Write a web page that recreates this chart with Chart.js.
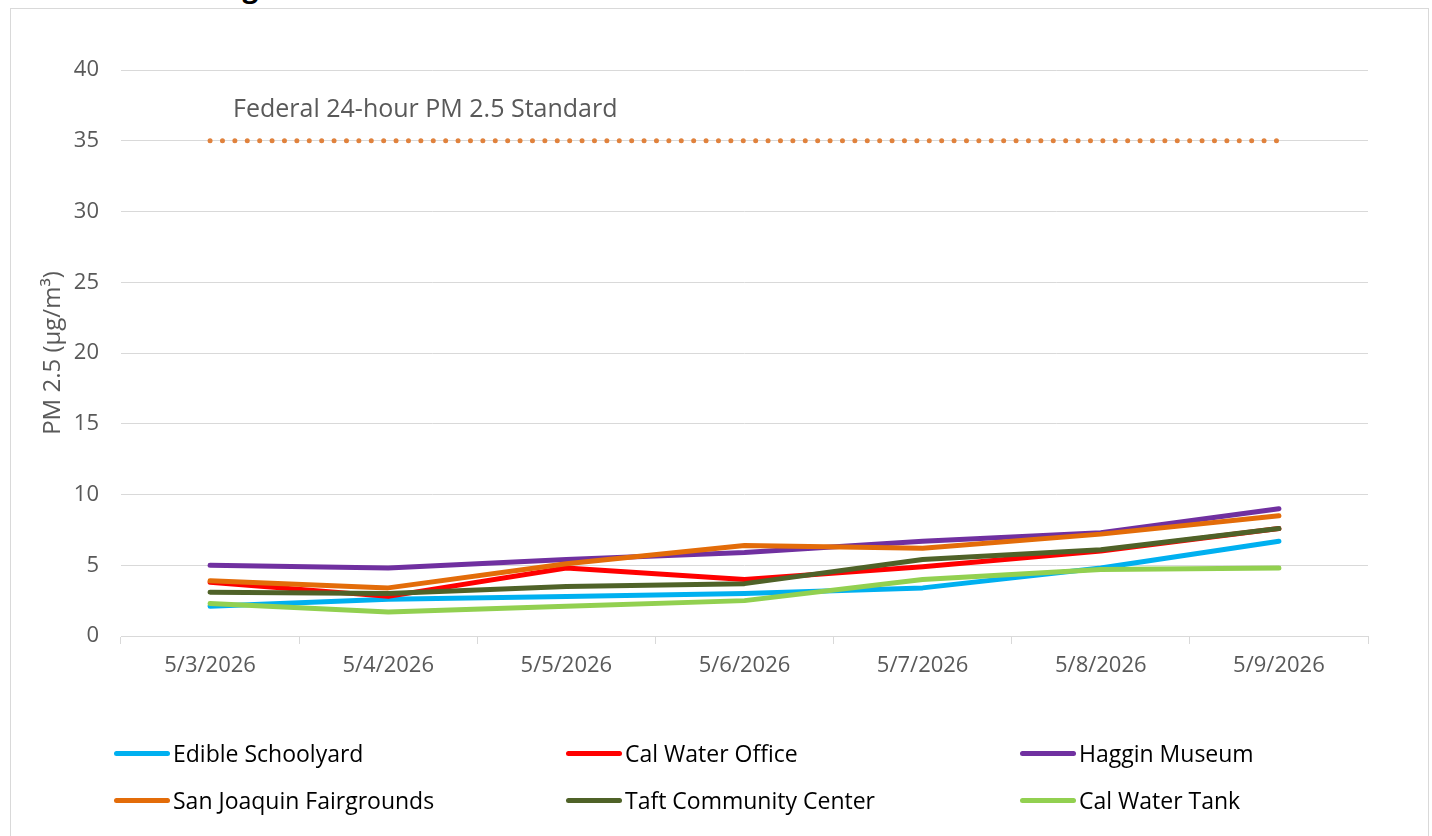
<!DOCTYPE html>
<html>
<head>
<meta charset="utf-8">
<title>PM 2.5</title>
<script src="https://cdn.jsdelivr.net/npm/chart.js@4.4.1/dist/chart.umd.min.js"></script>
<style>
  html, body { margin: 0; padding: 0; background: #fff; overflow: hidden; }
  body { width: 1432px; height: 836px; position: relative; font-family: "Open Sans", sans-serif; }
  #frame { position: absolute; left: 10px; top: 8px; width: 1419px; height: 840px; border: 1px solid #d9d9d9; box-sizing: border-box; }
  #head { position: absolute; left: 146px; top: -31px; font: bold 28px "Open Sans", sans-serif; color: #000; line-height: 34px; white-space: nowrap; }
  #wrap { position: absolute; left: 0; top: 0; width: 1432px; height: 700px; }
  #legend { position: absolute; left: 0; top: 0; width: 1432px; height: 836px; pointer-events: none; }
  .item { position: absolute; display: flex; align-items: center; font-size: 23px; color: #000; white-space: nowrap; }
  .swatch { display: inline-block; width: 56px; height: 5px; border-radius: 3px; margin-right: 3px; }
</style>
</head>
<body>
<div id="frame"></div>
<div id="head">Readings</div>
<div id="wrap"><canvas id="chart" width="1432" height="700"></canvas></div>
<div id="legend"></div>
<script>
"use strict";

var dates = ["5/3/2026", "5/4/2026", "5/5/2026", "5/6/2026", "5/7/2026", "5/8/2026", "5/9/2026"];
var yTicks = [0, 5, 10, 15, 20, 25, 30, 35, 40];

var edibleSchoolyard = [2.1, 2.6, 2.8, 3.0, 3.4, 4.8, 6.7];
var calWaterOffice = [3.8, 2.8, 4.8, 4.0, 4.9, 6.0, 7.6];
var hagginMuseum = [5.0, 4.8, 5.4, 5.9, 6.7, 7.3, 9.0];
var sanJoaquin = [3.9, 3.4, 5.1, 6.4, 6.2, 7.2, 8.5];
var taftCenter = [3.1, 3.0, 3.5, 3.7, 5.4, 6.1, 7.6];
var calWaterTank = [2.3, 1.7, 2.1, 2.5, 4.0, 4.7, 4.8];
var federalStandard = [35, 35, 35, 35, 35, 35, 35];

var standardLabel = "Federal 24-hour PM 2.5 Standard";

function line(label, data, color, order) {
  return {
    label: label,
    data: data,
    borderColor: color,
    backgroundColor: color,
    borderWidth: 5,
    borderCapStyle: "round",
    borderJoinStyle: "round",
    pointRadius: 0,
    tension: 0,
    order: order
  };
}

var stations = [
  line("Edible Schoolyard", edibleSchoolyard, "#00B0F0", 6),
  line("Cal Water Office", calWaterOffice, "#FF0000", 5),
  line("Haggin Museum", hagginMuseum, "#7030A0", 4),
  line("San Joaquin Fairgrounds", sanJoaquin, "#E36C09", 3),
  line("Taft Community Center", taftCenter, "#4F6228", 2),
  line("Cal Water Tank", calWaterTank, "#92D050", 1)
];

var standardSet = {
  label: standardLabel,
  data: federalStandard,
  borderColor: "#E0823D",
  borderWidth: 5,
  borderCapStyle: "round",
  borderDash: [0, 12.4],
  pointRadius: 0,
  order: 7
};

// label above the dotted standard line
var standardText = {
  id: "standardText",
  afterDatasetsDraw: function (chart) {
    var x = chart.scales.x, y = chart.scales.y, ctx = chart.ctx;
    ctx.save();
    ctx.font = "25px 'Open Sans', sans-serif";
    ctx.fillStyle = "#595959";
    ctx.textAlign = "left";
    ctx.textBaseline = "middle";
    ctx.fillText(standardLabel, x.getPixelForValue(0) + 23, y.getPixelForValue(35) - 31);
    ctx.restore();
  }
};

var tickColor = "#595959";
var gridColor = "#d9d9d9";

new Chart(document.getElementById("chart"), {
  type: "line",
  data: { labels: dates, datasets: stations.concat([standardSet]) },
  plugins: [standardText],
  options: {
    responsive: false,
    animation: false,
    devicePixelRatio: 1,
    layout: { padding: { left: 39, right: 64, top: 70, bottom: 0 } },
    plugins: { legend: { display: false }, tooltip: { enabled: false } },
    scales: {
      x: {
        offset: true,
        grid: { offset: true, drawOnChartArea: false, drawTicks: true, tickLength: 8, color: gridColor },
        border: { color: gridColor },
        ticks: { color: tickColor, font: { family: "'Open Sans', sans-serif", size: 22 }, padding: 9, maxRotation: 0 },
        afterFit: function (s) { s.height = 64; }
      },
      y: {
        min: 0,
        max: 40,
        afterBuildTicks: function (s) { s.ticks = yTicks.map(function (v) { return { value: v }; }); },
        grid: { color: gridColor, drawTicks: false },
        border: { display: false },
        ticks: { color: tickColor, font: { family: "'Open Sans', sans-serif", size: 22 }, padding: 22 },
        title: {
          display: true,
          text: "PM 2.5 (\u00B5g/m\u00B3)",
          color: tickColor,
          font: { family: "'Open Sans', sans-serif", size: 24 },
          padding: 0
        },
        afterFit: function (s) { s.width = 82; }
      }
    }
  },
});

// legend in three columns, like the source
var legendCols = [114, 566, 1020];
var legendRows = [753, 800];
var legendBox = document.getElementById("legend");
stations.forEach(function (ds, i) {
  var el = document.createElement("div");
  el.className = "item";
  el.style.left = legendCols[i % 3] + "px";
  el.style.top = (legendRows[Math.floor(i / 3)] - 15) + "px";
  el.style.height = "30px";
  el.innerHTML = '<span class="swatch" style="background:' + ds.borderColor + '"></span>' + ds.label;
  legendBox.appendChild(el);
});
</script>
</body>
</html>
